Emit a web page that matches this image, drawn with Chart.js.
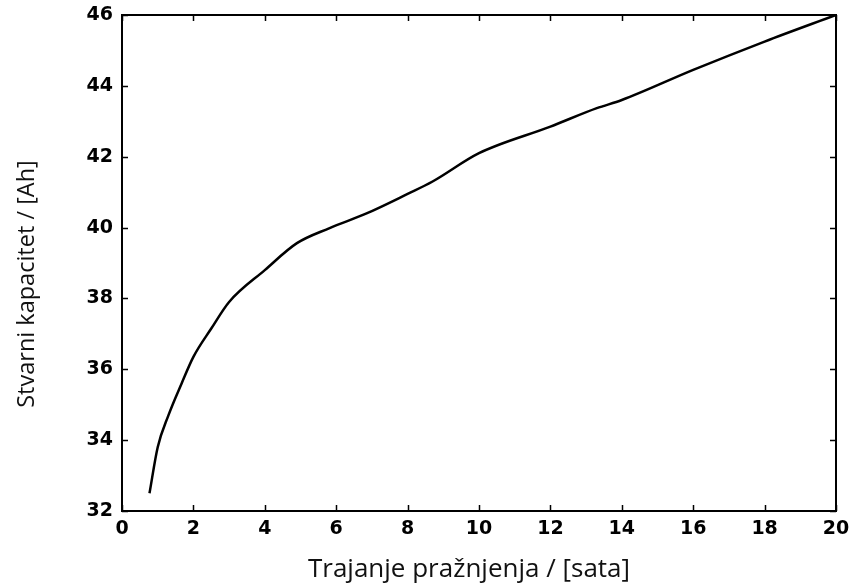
<!DOCTYPE html>
<html>
<head>
<meta charset="utf-8">
<script src="https://cdn.jsdelivr.net/npm/chart.js@4/dist/chart.umd.min.js"></script>
<style>
  html, body { margin: 0; padding: 0; background: #fff; }
  #wrap { width: 849px; height: 584px; }
</style>
</head>
<body>
<div id="wrap"><canvas id="capChart" width="849" height="584"></canvas></div>
<script>
const durationHours = [0.77, 1.0, 1.3, 1.67, 2.0, 2.5, 3.0, 4.0, 4.9, 5.8, 6.85, 8.0, 8.7, 10.0, 12.0, 13.3, 14.0, 16.0, 18.0, 20.0];
const capacityAh = [32.5, 33.8, 34.7, 35.6, 36.35, 37.15, 37.9, 38.8, 39.56, 39.98, 40.4, 40.95, 41.3, 42.1, 42.85, 43.37, 43.6, 44.45, 45.25, 46.0];

const xTicks = [0, 2, 4, 6, 8, 10, 12, 14, 16, 18, 20];
const yTicks = [32, 34, 36, 38, 40, 42, 44, 46];

const xTitle = 'Trajanje pražnjenja / [sata]';
const yTitle = 'Stvarni kapacitet / [Ah]';

const tickFont = { family: 'DejaVu Sans', size: 19, weight: 'bold' };

// frame round the plot + small inward tick marks on all four sides
const framePlugin = {
    id: 'frame',
    afterDatasetsDraw(chart) {
        const { ctx, chartArea: a, scales } = chart;
        ctx.save();
        ctx.strokeStyle = '#000';
        ctx.lineWidth = 2;
        ctx.strokeRect(a.left, a.top, a.right - a.left, a.bottom - a.top);
        ctx.lineWidth = 1.5;
        const len = 6;
        xTicks.forEach(v => {
            const px = Math.round(scales.x.getPixelForValue(v)) + 0.5;
            ctx.beginPath();
            ctx.moveTo(px, a.bottom); ctx.lineTo(px, a.bottom - len);
            ctx.moveTo(px, a.top); ctx.lineTo(px, a.top + len);
            ctx.stroke();
        });
        yTicks.forEach(v => {
            const py = Math.round(scales.y.getPixelForValue(v)) + 0.5;
            ctx.beginPath();
            ctx.moveTo(a.left, py); ctx.lineTo(a.left + len, py);
            ctx.moveTo(a.right, py); ctx.lineTo(a.right - len, py);
            ctx.stroke();
        });
        ctx.restore();
    }
};

// axis titles sit a little off-centre in the original, so draw them here
const titlesPlugin = {
    id: 'titles',
    afterDraw(chart) {
        const { ctx } = chart;
        ctx.save();
        ctx.fillStyle = '#111';
        ctx.textAlign = 'center';
        ctx.textBaseline = 'alphabetic';
        ctx.font = '26px "Open Sans"';
        ctx.fillText(xTitle, 469, 577);
        ctx.translate(34, 284);
        ctx.rotate(-Math.PI / 2);
        ctx.font = '23.5px "Open Sans"';
        ctx.fillText(yTitle, 0, 0);
        ctx.restore();
    }
};

const ctx = document.getElementById('capChart').getContext('2d');
new Chart(ctx, {
    type: 'line',
    data: {
        datasets: [{
            data: durationHours.map((x, i) => ({ x: x, y: capacityAh[i] })),
            borderColor: '#000',
            borderWidth: 2.5,
            pointRadius: 0,
            fill: false,
            cubicInterpolationMode: 'monotone'
        }]
    },
    options: {
        responsive: false,
        animation: false,
        layout: { padding: { top: 15, right: 13, left: 0, bottom: 0 } },
        plugins: {
            legend: { display: false },
            tooltip: { enabled: false }
        },
        scales: {
            x: {
                type: 'linear',
                min: 0, max: 20,
                afterBuildTicks: s => { s.ticks = xTicks.map(v => ({ value: v })); },
                afterFit: s => { s.height = 73; s.paddingLeft = 0; s.paddingRight = 0; },
                grid: { display: false, drawTicks: false },
                border: { display: false },
                ticks: { color: '#000', font: tickFont, padding: 7, maxRotation: 0 }
            },
            y: {
                type: 'linear',
                min: 32, max: 46,
                afterBuildTicks: s => { s.ticks = yTicks.map(v => ({ value: v })); },
                afterFit: s => { s.width = 122; s.paddingTop = 0; s.paddingBottom = 0; },
                grid: { display: false, drawTicks: false },
                border: { display: false },
                ticks: { color: '#000', font: tickFont, padding: 9 }
            }
        }
    },
    plugins: [framePlugin, titlesPlugin]
});
</script>
</body>
</html>
